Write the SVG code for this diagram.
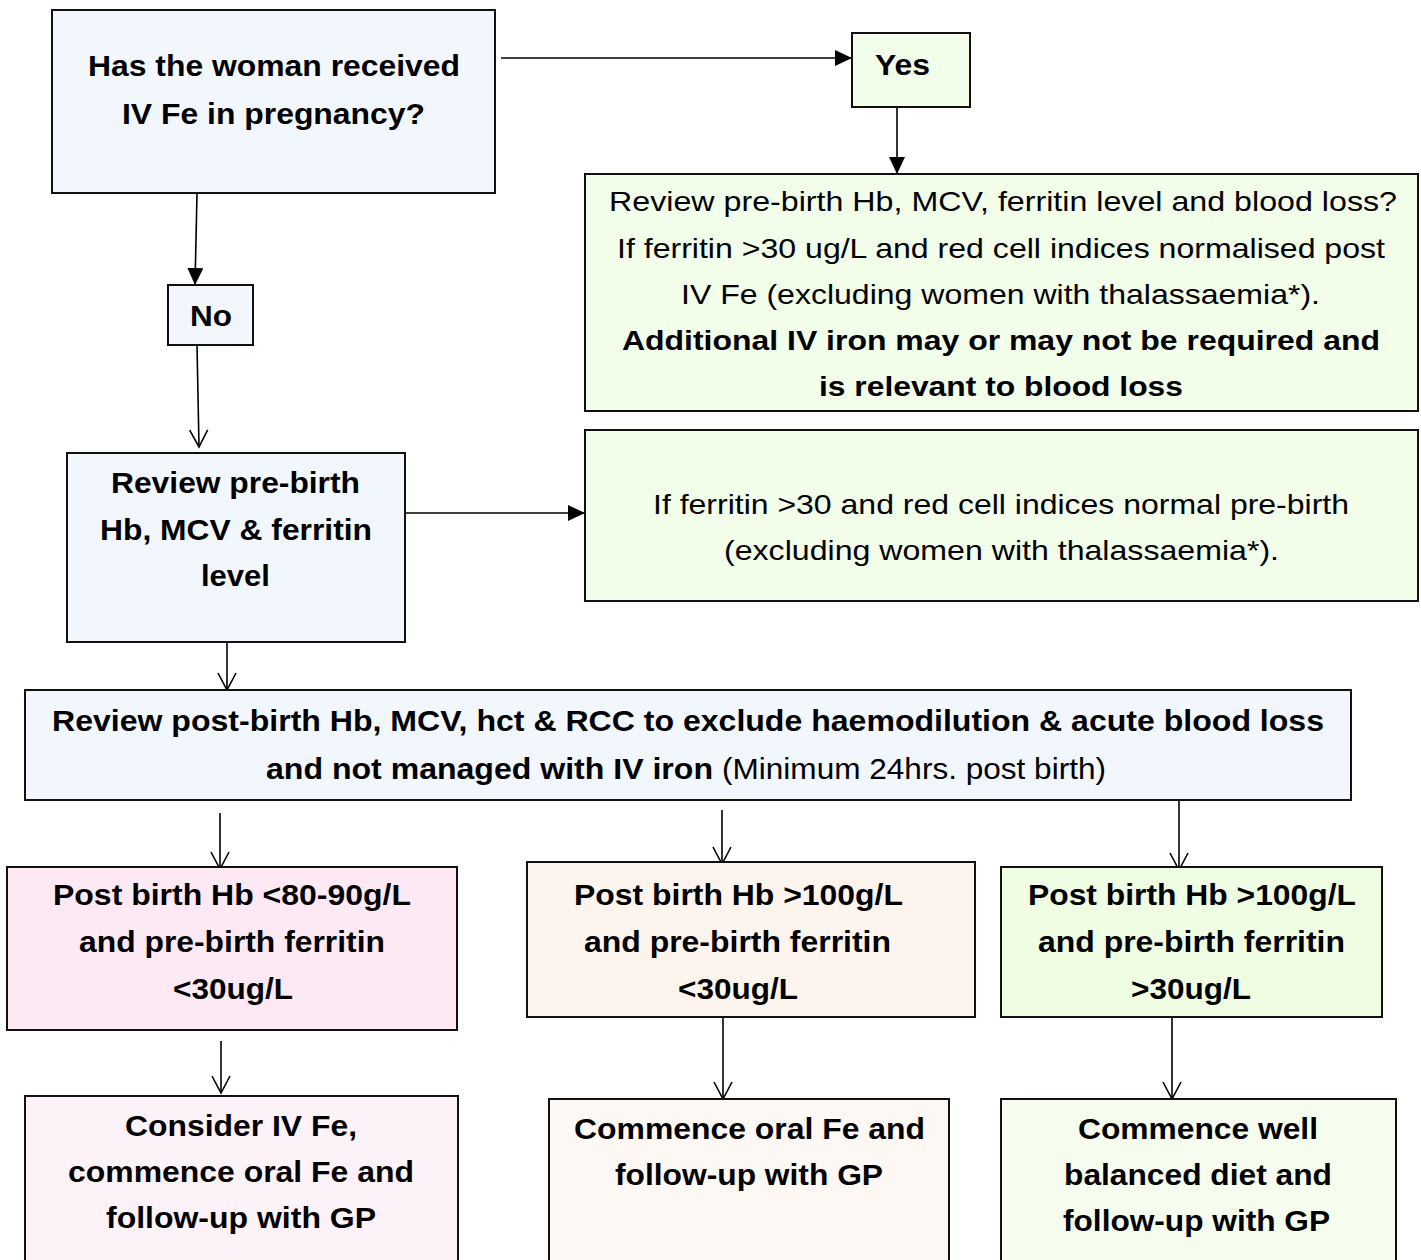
<svg xmlns="http://www.w3.org/2000/svg" width="1421" height="1260" viewBox="0 0 1421 1260">
<style>
.box{stroke:#111;stroke-width:2}
.blue{fill:#f2f7fd}
.green{fill:#f2fdea}
.green2{fill:#effde3}
.green3{fill:#f6fdef}
.pink1{fill:#fde9f4}
.pink2{fill:#fdf2f8}
.peach1{fill:#fdf4ee}
.peach2{fill:#fef8f5}
text{font-family:"Liberation Sans",Arial,sans-serif;fill:#000;text-anchor:middle}
.b{font-weight:bold}
.s30{font-size:30px}
.s26{font-size:28px}
.s29{font-size:30px}
.s27{font-size:29px}
.conn line{stroke:#000;stroke-width:1.6;fill:none}
</style>
<defs>
<marker id="fill" markerWidth="18" markerHeight="16" refX="17" refY="8" orient="auto" markerUnits="userSpaceOnUse">
<path d="M0,0 L17,8 L0,16 Z" fill="#000"/>
</marker>
<marker id="open" markerWidth="20" markerHeight="22" refX="18" refY="10" orient="auto" markerUnits="userSpaceOnUse">
<path d="M1,1 L18,10 L1,19" fill="none" stroke="#000" stroke-width="1.6"/>
</marker>
</defs>
<g id="connectors" class="conn">
<line x1="501" y1="58" x2="852" y2="58" marker-end="url(#fill)"/>
<line x1="897" y1="108" x2="897" y2="174" marker-end="url(#fill)"/>
<line x1="197" y1="194" x2="195" y2="285" marker-end="url(#fill)"/>
<line x1="197" y1="345" x2="199" y2="447" marker-end="url(#open)"/>
<line x1="405" y1="513" x2="585" y2="513" marker-end="url(#fill)"/>
<line x1="227" y1="642" x2="227" y2="690" marker-end="url(#open)"/>
<line x1="220" y1="813" x2="220" y2="869" marker-end="url(#open)"/>
<line x1="722" y1="810" x2="722" y2="864" marker-end="url(#open)"/>
<line x1="1179" y1="801" x2="1179" y2="870" marker-end="url(#open)"/>
<line x1="221" y1="1041" x2="221" y2="1093" marker-end="url(#open)"/>
<line x1="723" y1="1017" x2="723" y2="1099" marker-end="url(#open)"/>
<line x1="1172" y1="1017" x2="1172" y2="1099" marker-end="url(#open)"/>
</g>
<g id="q1">
<rect class="box blue" x="52" y="10" width="443" height="183"/>
<text class="b s30" x="274" y="76" textLength="372" lengthAdjust="spacingAndGlyphs">Has the woman received</text>
<text class="b s30" x="273.5" y="124" textLength="303" lengthAdjust="spacingAndGlyphs">IV Fe in pregnancy?</text>
</g>
<g id="yes">
<rect class="box green" x="852" y="33" width="118" height="74"/>
<text class="b s30" x="902.5" y="75" textLength="55" lengthAdjust="spacingAndGlyphs">Yes</text>
</g>
<g id="review-ivfe">
<rect class="box green" x="585" y="174" width="833" height="237"/>
<text class="s26" x="1003" y="211" textLength="788" lengthAdjust="spacingAndGlyphs">Review pre-birth Hb, MCV, ferritin level and blood loss?</text>
<text class="s26" x="1001" y="258" textLength="768" lengthAdjust="spacingAndGlyphs">If ferritin &gt;30 ug/L and red cell indices normalised post</text>
<text class="s26" x="1000.5" y="304" textLength="639" lengthAdjust="spacingAndGlyphs">IV Fe (excluding women with thalassaemia*).</text>
<text class="b s26" x="1001" y="350" textLength="758" lengthAdjust="spacingAndGlyphs">Additional IV iron may or may not be required and</text>
<text class="b s26" x="1001" y="396" textLength="364" lengthAdjust="spacingAndGlyphs">is relevant to blood loss</text>
</g>
<g id="no">
<rect class="box blue" x="168" y="285" width="85" height="60"/>
<text class="b s30" x="211" y="326" textLength="42" lengthAdjust="spacingAndGlyphs">No</text>
</g>
<g id="review-prebirth">
<rect class="box blue" x="67" y="453" width="338" height="189"/>
<text class="b s30" x="235.5" y="493" textLength="249" lengthAdjust="spacingAndGlyphs">Review pre-birth</text>
<text class="b s30" x="236" y="540" textLength="272" lengthAdjust="spacingAndGlyphs">Hb, MCV &amp; ferritin</text>
<text class="b s30" x="235.5" y="586" textLength="69" lengthAdjust="spacingAndGlyphs">level</text>
</g>
<g id="normal-prebirth">
<rect class="box green" x="585" y="430" width="833" height="171"/>
<text class="s26" x="1001" y="514" textLength="696" lengthAdjust="spacingAndGlyphs">If ferritin &gt;30 and red cell indices normal pre-birth</text>
<text class="s26" x="1001.5" y="560" textLength="555" lengthAdjust="spacingAndGlyphs">(excluding women with thalassaemia*).</text>
</g>
<g id="review-postbirth">
<rect class="box blue" x="25" y="690" width="1326" height="110"/>
<text class="b s29" x="688" y="731" textLength="1272" lengthAdjust="spacingAndGlyphs">Review post-birth Hb, MCV, hct &amp; RCC to exclude haemodilution &amp; acute blood loss</text>
<text class="b s29" x="266" y="779" textLength="447" lengthAdjust="spacingAndGlyphs" style="text-anchor:start">and not managed with IV iron</text>
<text class="s29" x="722" y="779" textLength="384" lengthAdjust="spacingAndGlyphs" style="text-anchor:start">(Minimum 24hrs. post birth)</text>
</g>
<g id="low-hb">
<rect class="box pink1" x="7" y="867" width="450" height="163"/>
<text class="b s27" x="232" y="905" textLength="358" lengthAdjust="spacingAndGlyphs">Post birth Hb &lt;80-90g/L</text>
<text class="b s27" x="232" y="952" textLength="306" lengthAdjust="spacingAndGlyphs">and pre-birth ferritin</text>
<text class="b s27" x="233" y="999" textLength="120" lengthAdjust="spacingAndGlyphs">&lt;30ug/L</text>
</g>
<g id="hb-low-ferritin">
<rect class="box peach1" x="527" y="862" width="448" height="155"/>
<text class="b s27" x="738.5" y="905" textLength="329" lengthAdjust="spacingAndGlyphs">Post birth Hb &gt;100g/L</text>
<text class="b s27" x="737.5" y="952" textLength="307" lengthAdjust="spacingAndGlyphs">and pre-birth ferritin</text>
<text class="b s27" x="738" y="999" textLength="120" lengthAdjust="spacingAndGlyphs">&lt;30ug/L</text>
</g>
<g id="hb-ok">
<rect class="box green2" x="1001" y="867" width="381" height="150"/>
<text class="b s27" x="1192" y="905" textLength="328" lengthAdjust="spacingAndGlyphs">Post birth Hb &gt;100g/L</text>
<text class="b s27" x="1191.5" y="952" textLength="307" lengthAdjust="spacingAndGlyphs">and pre-birth ferritin</text>
<text class="b s27" x="1191" y="999" textLength="120" lengthAdjust="spacingAndGlyphs">&gt;30ug/L</text>
</g>
<g id="consider-iv">
<rect class="box pink2" x="25" y="1096" width="433" height="170"/>
<text class="b s27" x="241" y="1136" textLength="232" lengthAdjust="spacingAndGlyphs">Consider IV Fe,</text>
<text class="b s27" x="241" y="1182" textLength="346" lengthAdjust="spacingAndGlyphs">commence oral Fe and</text>
<text class="b s27" x="241" y="1228" textLength="270" lengthAdjust="spacingAndGlyphs">follow-up with GP</text>
</g>
<g id="oral-fe">
<rect class="box peach2" x="549" y="1099" width="400" height="170"/>
<text class="b s27" x="749.5" y="1139" textLength="351" lengthAdjust="spacingAndGlyphs">Commence oral Fe and</text>
<text class="b s27" x="749" y="1185" textLength="268" lengthAdjust="spacingAndGlyphs">follow-up with GP</text>
</g>
<g id="diet">
<rect class="box green3" x="1001" y="1099" width="395" height="170"/>
<text class="b s27" x="1198" y="1139" textLength="240" lengthAdjust="spacingAndGlyphs">Commence well</text>
<text class="b s27" x="1198" y="1185" textLength="268" lengthAdjust="spacingAndGlyphs">balanced diet and</text>
<text class="b s27" x="1196.5" y="1231" textLength="267" lengthAdjust="spacingAndGlyphs">follow-up with GP</text>
</g>
</svg>
